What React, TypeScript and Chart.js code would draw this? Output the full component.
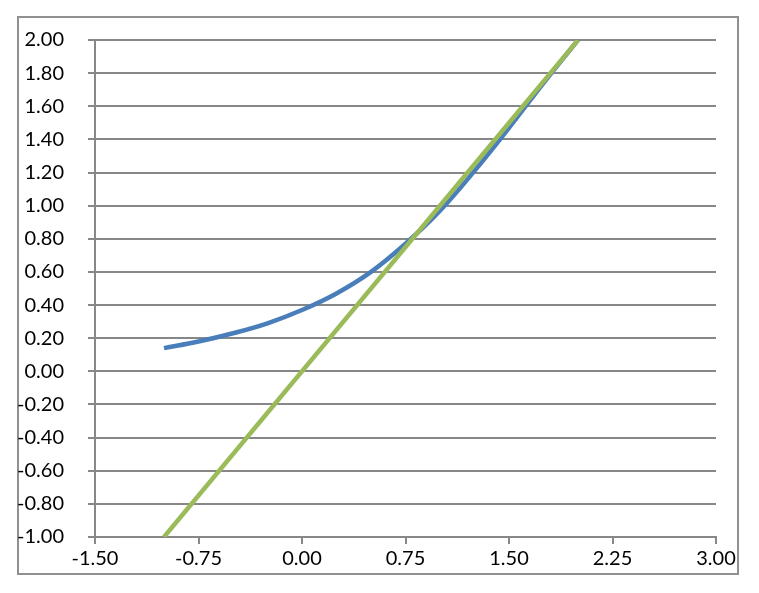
import React, { useEffect, useRef } from "react";
import { Chart, registerables } from "chart.js";

Chart.register(...registerables);

const curveX = [-1, -0.75, -0.5, -0.25, 0, 0.25, 0.5, 0.75, 1.0, 1.25, 1.5, 1.75, 2.0];
const curveY = [0.14, 0.18, 0.23, 0.29, 0.37, 0.47, 0.6, 0.77, 0.97, 1.21, 1.47, 1.74, 2.0];
const lineX = [-1, 2];
const lineY = [-1, 2];

const xMin = -1.5;
const xMax = 3;
const xStep = 0.75;
const yMin = -1;
const yMax = 2;
const yStep = 0.2;

export default function App() {
  const canvasRef = useRef<HTMLCanvasElement | null>(null);

  useEffect(() => {
    const canvas = canvasRef.current;
    if (!canvas) return;
    const gridColor = "#878787";
    const font = { family: "Lato, 'Liberation Sans', sans-serif", size: 20 };
    const chart = new Chart(canvas, {
      type: "line",
      data: {
        datasets: [
          {
            label: "line",
            data: lineX.map((x, i) => ({ x, y: lineY[i] })),
            borderColor: "#9BBB59",
            borderWidth: 4.5,
            pointRadius: 0,
            fill: false,
          },
          {
            label: "curve",
            data: curveX.map((x, i) => ({ x, y: curveY[i] })),
            borderColor: "#4A7EBB",
            borderWidth: 4.5,
            pointRadius: 0,
            fill: false,
            tension: 0.4,
          },
        ],
      },
      options: {
        animation: false,
        responsive: false,
        maintainAspectRatio: false,
        layout: { padding: { left: 0, top: 40, right: 43, bottom: 0 } },
        plugins: { legend: { display: false }, tooltip: { enabled: false } },
        scales: {
          x: {
            type: "linear",
            min: xMin,
            max: xMax,
            afterFit: (s: any) => {
              s.height = 56;
            },
            ticks: {
              stepSize: xStep,
              color: "#000",
              font,
              padding: 3,
              maxRotation: 0,
              autoSkip: false,
              callback: (v: any) => Number(v).toFixed(2),
            },
            grid: {
              drawOnChartArea: false,
              drawTicks: true,
              tickLength: 7,
              color: gridColor,
              lineWidth: 2,
            },
            border: { display: true, color: gridColor, width: 2 },
          },
          y: {
            type: "linear",
            min: yMin,
            max: yMax,
            afterFit: (s: any) => {
              s.width = 95;
            },
            ticks: {
              stepSize: yStep,
              color: "#000",
              font,
              padding: 24,
              autoSkip: false,
              callback: (v: any) => Number(v).toFixed(2),
            },
            grid: {
              drawOnChartArea: true,
              drawTicks: true,
              tickLength: 7,
              color: gridColor,
              lineWidth: 2,
            },
            border: { display: true, color: gridColor, width: 2 },
          },
        },
      },
    });
    return () => chart.destroy();
  }, []);

  return (
    <div style={{ position: "fixed", left: 0, top: 0, width: 759, height: 593, background: "#fff" }}>
      <div
        style={{
          position: "absolute",
          left: 17,
          top: 16,
          width: 718,
          height: 555,
          border: "2px solid #909090",
          pointerEvents: "none",
        }}
      />
      <canvas ref={canvasRef} width={759} height={593} style={{ position: "absolute", left: 0, top: 0 }} />
    </div>
  );
}
